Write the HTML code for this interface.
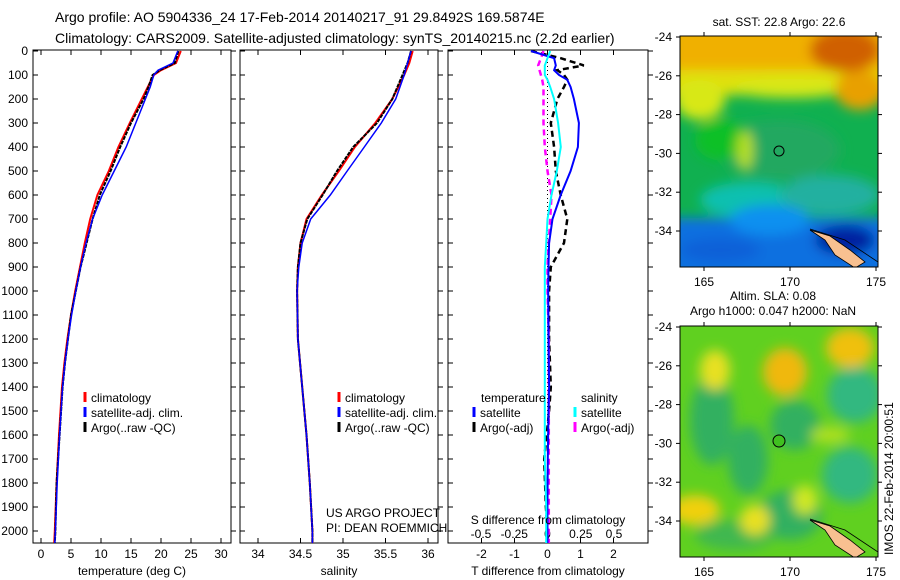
<!DOCTYPE html>
<html><head><meta charset="utf-8"><style>
body{margin:0;background:#fff;}
svg{display:block;font-family:"Liberation Sans",sans-serif;}
</style></head><body>
<svg id="fig" width="900" height="580" viewBox="0 0 900 580" xmlns="http://www.w3.org/2000/svg">
<defs>
<filter id="bl1" x="-50%" y="-50%" width="200%" height="200%"><feGaussianBlur stdDeviation="6"/></filter>
<filter id="bl2" x="-50%" y="-50%" width="200%" height="200%"><feGaussianBlur stdDeviation="6"/></filter>
<clipPath id="cm1"><rect x="680" y="36" width="198" height="231"/></clipPath>
<clipPath id="cm2"><rect x="680" y="326" width="198" height="231"/></clipPath>
<clipPath id="cp1"><rect x="33" y="50" width="198" height="493"/></clipPath>
<clipPath id="cp2"><rect x="240" y="50" width="198" height="493"/></clipPath>
<clipPath id="cp3"><rect x="448" y="50" width="200" height="493"/></clipPath>
</defs>
<text x="55" y="22" font-size="14">Argo profile: AO 5904336_24 17-Feb-2014 20140217_91 29.8492S 169.5874E</text>
<text x="55" y="43" font-size="14">Climatology: CARS2009. Satellite-adjusted climatology: synTS_20140215.nc (2.2d earlier)</text>
<g id="p1"></g>
<g id="p2"></g>
<g id="p3"></g>

<!-- Map 1 SST -->
<g>
<text x="779" y="26" font-size="12" text-anchor="middle">sat. SST: 22.8 Argo: 22.6</text>
<g clip-path="url(#cm1)">
<rect x="680" y="36" width="198" height="231" fill="#10b050"/>
<g filter="url(#bl1)">
<rect x="670" y="20" width="220" height="60" fill="#f0b000"/>
<rect x="670" y="70" width="220" height="25" fill="#e0e010"/>
<ellipse cx="700" cy="100" rx="25" ry="20" fill="#d8e818"/>
<ellipse cx="790" cy="88" rx="60" ry="10" fill="#d8e818"/>
<ellipse cx="845" cy="50" rx="35" ry="22" fill="#d06000"/>
<ellipse cx="860" cy="90" rx="25" ry="20" fill="#e8a000"/>
<ellipse cx="780" cy="150" rx="60" ry="30" fill="#20a860"/>
<ellipse cx="720" cy="140" rx="25" ry="20" fill="#10c028"/>
<ellipse cx="745" cy="150" rx="8" ry="20" fill="#b8e020"/>
<ellipse cx="750" cy="200" rx="50" ry="18" fill="#10c0b0"/>
<ellipse cx="830" cy="195" rx="50" ry="20" fill="#20b0a0"/>
<rect x="670" y="218" width="230" height="60" fill="#1070e0"/>
<ellipse cx="770" cy="220" rx="40" ry="15" fill="#1090f0"/>
<ellipse cx="720" cy="250" rx="40" ry="12" fill="#1060d8"/>
<ellipse cx="845" cy="240" rx="30" ry="15" fill="#0020a0"/>
</g>
<path d="M810 230 L830 236 L850 250 L865 262 L855 268 L835 255 L825 240Z" fill="#f8c090" stroke="#000" stroke-width="0.8"/>
<path d="M810 229 L845 240 L878 262" fill="none" stroke="#000" stroke-width="0.8"/>
</g>
<circle cx="779" cy="151" r="5" fill="none" stroke="#000"/>
<rect x="680" y="36" width="198" height="231" fill="none" stroke="#000"/>
</g>

<!-- Map 2 SLA -->
<g>
<text x="773" y="300" font-size="12" text-anchor="middle">Altim. SLA: 0.08</text>
<text x="773" y="315" font-size="12" text-anchor="middle">Argo h1000: 0.047 h2000: NaN</text>
<g clip-path="url(#cm2)">
<rect x="680" y="326" width="198" height="231" fill="#60d020"/>
<g filter="url(#bl2)">
<ellipse cx="712" cy="420" rx="22" ry="45" fill="#30b060"/>
<ellipse cx="748" cy="460" rx="20" ry="35" fill="#30b060"/>
<ellipse cx="795" cy="425" rx="25" ry="25" fill="#30b060"/>
<ellipse cx="855" cy="395" rx="28" ry="28" fill="#30b880"/>
<ellipse cx="850" cy="475" rx="28" ry="28" fill="#30b880"/>
<ellipse cx="790" cy="515" rx="32" ry="25" fill="#30b060"/>
<ellipse cx="735" cy="535" rx="40" ry="15" fill="#40b850"/>
<ellipse cx="715" cy="370" rx="15" ry="20" fill="#e8e020"/>
<ellipse cx="785" cy="372" rx="22" ry="24" fill="#f0b810"/>
<ellipse cx="850" cy="348" rx="24" ry="20" fill="#f0c010"/>
<ellipse cx="695" cy="510" rx="25" ry="15" fill="#f0d010"/>
<ellipse cx="755" cy="520" rx="15" ry="15" fill="#e8e020"/>
<ellipse cx="830" cy="435" rx="20" ry="8" fill="#b0e020"/>
<ellipse cx="805" cy="500" rx="12" ry="15" fill="#d0e820"/>
</g>
<path d="M810 520 L830 526 L850 540 L865 552 L855 558 L835 545 L825 530Z" fill="#f8c090" stroke="#000" stroke-width="0.8"/>
<path d="M810 519 L845 530 L878 552" fill="none" stroke="#000" stroke-width="0.8"/>
</g>
<circle cx="779" cy="441" r="6" fill="#40c020" stroke="#000"/>
<rect x="680" y="326" width="198" height="231" fill="none" stroke="#000"/>
</g>
<text transform="translate(893,555) rotate(-90)" font-size="12">IMOS 22-Feb-2014 20:00:51</text>
</svg>
<script>
// ---- data ----
const depthsT = [0,50,80,100,150,200,300,400,500,600,700,800,900,1000,1100,1200,1300,1400,1600,1800,2000,2050];
const tempClim = [23.3,22.5,20,18.8,17.8,16.8,14.8,12.9,11.3,9.4,8.2,7.3,6.5,5.7,5.0,4.4,3.9,3.5,3.0,2.6,2.3,2.2];
const tempSat  = [22.8,22.0,19.5,18.8,18.2,17.4,15.8,14.2,12.2,10.2,8.6,7.5,6.6,5.8,5.1,4.5,4.0,3.6,3.1,2.7,2.4,2.3];
const tempArgo = [22.9,22.3,19.8,18.6,17.9,17.1,15.0,13.2,11.6,9.8,8.6,7.6,6.6,5.8,5.0,4.5,4.0,3.6,3.1,2.6,2.4,2.3];
const depthsS = [0,50,100,200,300,400,500,600,700,800,900,1000,1200,1400,1600,1800,2000,2050];
const salClim = [35.82,35.78,35.72,35.58,35.38,35.14,34.95,34.75,34.57,34.5,34.47,34.46,34.47,34.52,34.57,34.61,34.64,34.64];
const salSat  = [35.80,35.76,35.72,35.62,35.45,35.25,35.05,34.85,34.62,34.52,34.48,34.46,34.47,34.52,34.57,34.61,34.64,34.64];
const salArgo = [35.80,35.76,35.70,35.58,35.40,35.12,34.93,34.76,34.58,34.5,34.47,34.46,34.47,34.52,34.57,34.61,34.64,34.64];
const depthsD = [0,30,60,80,100,120,150,200,300,400,500,600,700,800,900,1000,1200,1400,1500,1700,1900,2000,2050];
const dTSat  = [-0.5,0.2,0.25,0.2,0.35,0.6,0.7,0.8,0.95,0.92,0.7,0.4,0.15,0.05,0.03,0.02,0.03,0.05,0.03,0.01,0,0,0];
const dTArgo = [-0.5,0.4,1.1,0.3,0.5,0.6,0.5,0.3,0.1,0.2,0.25,0.4,0.6,0.5,0.1,0.05,0.05,0.1,0.05,-0.1,-0.05,0,0];
const dSSat  = [0.02,0.0,-0.02,-0.02,-0.02,0.0,0.02,0.05,0.08,0.1,0.07,0.03,0.0,-0.01,-0.02,-0.02,-0.02,-0.02,-0.02,-0.02,-0.01,-0.01,-0.01];
const dSArgo = [-0.03,-0.05,-0.07,-0.06,-0.05,-0.04,-0.03,-0.03,-0.03,-0.02,0.0,0.03,0.02,0.01,0.0,0.0,0.01,0.01,0.01,0.01,0.01,0.01,0.01];
const depthTicks = [0,100,200,300,400,500,600,700,800,900,1000,1100,1200,1300,1400,1500,1600,1700,1800,1900,2000];
const tempTicks = [0,5,10,15,20,25,30];
const salTicks = [34,34.5,35,35.5,36];
const salTickLabels = ["34","34.5","35","35.5","36"];
const dTTicks = [-2,-1,0,1,2];
const dSTicks = [-0.5,-0.25,0,0.25,0.5];
const dSTickLabels = ["-0.5","-0.25","0","0.25","0.5"];
const mapLonTicks = [165,170,175];
const mapLatTicks = [-24,-26,-28,-30,-32,-34];

const NS = "http://www.w3.org/2000/svg";
const fig = document.getElementById('fig');
const yD = d => 51 + d * 0.24;
function mk(parent, tag, attrs, text){
  const e = document.createElementNS(NS, tag);
  for (const k in attrs) e.setAttribute(k, attrs[k]);
  if (text !== undefined) e.textContent = text;
  parent.appendChild(e); return e;
}
function line(parent, xs, ds, sx, color, w, dash, name, clip){
  const pts = xs.map((v,i)=> sx(v).toFixed(1)+','+yD(ds[i]).toFixed(1)).join(' ');
  const p = mk(parent,'polyline',{points:pts,fill:'none',stroke:color,'stroke-width':w,'clip-path':clip});
  if (dash) p.setAttribute('stroke-dasharray', dash);
  
  
}
function frame(g, x0, x1, name){
  const r = mk(g,'rect',{x:x0,y:50,width:x1-x0,height:493,fill:'none',stroke:'#000'});
  
  
  depthTicks.forEach(d=>{
    mk(g,'line',{x1:x0,x2:x0+5,y1:yD(d),y2:yD(d),stroke:'#000'});
    mk(g,'line',{x1:x1,x2:x1+5,y1:yD(d),y2:yD(d),stroke:'#000'});
  });
}
function xticks(g, ticks, labels, sx, y, name){
  ticks.forEach((t,i)=>{
    mk(g,'line',{x1:sx(t),x2:sx(t),y1:543,y2:538,stroke:'#000'});
    mk(g,'line',{x1:sx(t),x2:sx(t),y1:50,y2:55,stroke:'#000'});
    const tx = mk(g,'text',{x:sx(t),y:y,'font-size':12,'text-anchor':'middle'}, labels[i]);
    
    
  });
}
function legendEntry(g, x, y, color, label){
  const l = mk(g,'line',{x1:x,x2:x,y1:y-10,y2:y,stroke:color,'stroke-width':3});
  
  
  const t = mk(g,'text',{x:x+6,y:y,'font-size':12},label);
  
  
}

// Panel 1 temperature
const p1 = document.getElementById('p1');
const sxT = v => 41 + v*6;
frame(p1, 33, 231, 'temperature-axes-frame');
depthTicks.forEach(d=>{
  const t = mk(p1,'text',{x:28,y:yD(d)+4,'font-size':12,'text-anchor':'end'}, String(d));
  
  
});
xticks(p1, tempTicks, tempTicks.map(String), sxT, 558, 'temperature-tick-label');
line(p1, tempClim, depthsT, sxT, '#f00', 2, null, 'temperature-climatology-line', 'url(#cp1)');
line(p1, tempArgo, depthsT, sxT, '#000', 2, '4,1', 'temperature-argo-line', 'url(#cp1)');
line(p1, tempSat, depthsT, sxT, '#00f', 1.5, null, 'temperature-satellite-line', 'url(#cp1)');
legendEntry(p1, 85, 402, '#f00', 'climatology');
legendEntry(p1, 85, 417, '#00f', 'satellite-adj. clim.');
legendEntry(p1, 85, 432, '#000', 'Argo(..raw -QC)');
mk(p1,'text',{x:132,y:575,'font-size':12,'text-anchor':'middle',},'temperature (deg C)');

// Panel 2 salinity
const p2 = document.getElementById('p2');
const sxS = v => 258 + (v-34)*85;
frame(p2, 240, 438, 'salinity-axes-frame');
xticks(p2, salTicks, salTickLabels, sxS, 558, 'salinity-tick-label');
line(p2, salClim, depthsS, sxS, '#f00', 2, null, 'salinity-climatology-line', 'url(#cp2)');
line(p2, salArgo, depthsS, sxS, '#000', 2, '4,1', 'salinity-argo-line', 'url(#cp2)');
line(p2, salSat, depthsS, sxS, '#00f', 1.5, null, 'salinity-satellite-line', 'url(#cp2)');
legendEntry(p2, 339, 402, '#f00', 'climatology');
legendEntry(p2, 339, 417, '#00f', 'satellite-adj. clim.');
legendEntry(p2, 339, 432, '#000', 'Argo(..raw -QC)');
mk(p2,'text',{x:326,y:517,'font-size':12,},'US ARGO PROJECT');
mk(p2,'text',{x:326,y:532,'font-size':12,},'PI: DEAN ROEMMICH');
mk(p2,'text',{x:339,y:575,'font-size':12,'text-anchor':'middle',},'salinity');

// Panel 3 differences
const p3 = document.getElementById('p3');
const sxDT = v => 547.5 + v*33;
const sxDS = v => 547.5 + v*133;
frame(p3, 448, 648, 'difference-axes-frame');
mk(p3,'line',{x1:547.5,x2:547.5,y1:50,y2:543,stroke:'#000','stroke-dasharray':'1,3',});
xticks(p3, dTTicks, dTTicks.map(String), sxDT, 558, 'temperature-diff-tick-label');
dSTicks.forEach((t,i)=>{
  const tx = mk(p3,'text',{x:sxDS(t),y:538,'font-size':12,'text-anchor':'middle'}, dSTickLabels[i]);
  
  
});
line(p3, dTArgo, depthsD, sxDT, '#000', 2.5, '6,4', 'temperature-argo-diff-line', 'url(#cp3)');
line(p3, dSArgo, depthsD, sxDS, '#f0f', 2.5, '6,4', 'salinity-argo-diff-line', 'url(#cp3)');
line(p3, dTSat, depthsD, sxDT, '#00f', 2, null, 'temperature-satellite-diff-line', 'url(#cp3)');
line(p3, dSSat, depthsD, sxDS, '#0ff', 2, null, 'salinity-satellite-diff-line', 'url(#cp3)');
mk(p3,'text',{x:481,y:402,'font-size':12,},'temperature');
mk(p3,'text',{x:581,y:402,'font-size':12,},'salinity');
legendEntry(p3, 474, 417, '#00f', 'satellite');
legendEntry(p3, 474, 432, '#000', 'Argo(-adj)');
legendEntry(p3, 575, 417, '#0ff', 'satellite');
legendEntry(p3, 575, 432, '#f0f', 'Argo(-adj)');
mk(p3,'text',{x:548,y:524,'font-size':12,'text-anchor':'middle',},'S difference from climatology');
mk(p3,'text',{x:548,y:575,'font-size':12,'text-anchor':'middle',},'T difference from climatology');

// Map axes
const sxLon = v => 704 + (v-165)*17.2;
[[36,'sst'],[326,'sla']].forEach(([top,nm])=>{
  const syLat = v => top + 1 + (-24 - v)*19.4;
  mapLonTicks.forEach(t=>{
    mk(fig,'line',{x1:sxLon(t),x2:sxLon(t),y1:top,y2:top-4,stroke:'#000'});
    mk(fig,'line',{x1:sxLon(t),x2:sxLon(t),y1:top+231,y2:top+235,stroke:'#000'});
    const tx = mk(fig,'text',{x:sxLon(t),y:top+250,'font-size':12,'text-anchor':'middle'},String(t));
    
    
  });
  mapLatTicks.forEach(t=>{
    mk(fig,'line',{x1:680,x2:676,y1:syLat(t),y2:syLat(t),stroke:'#000'});
    mk(fig,'line',{x1:878,x2:882,y1:syLat(t),y2:syLat(t),stroke:'#000'});
    const tx = mk(fig,'text',{x:672,y:syLat(t)+4,'font-size':12,'text-anchor':'end'},String(t));
    
    
  });
});
</script>
</body></html>
